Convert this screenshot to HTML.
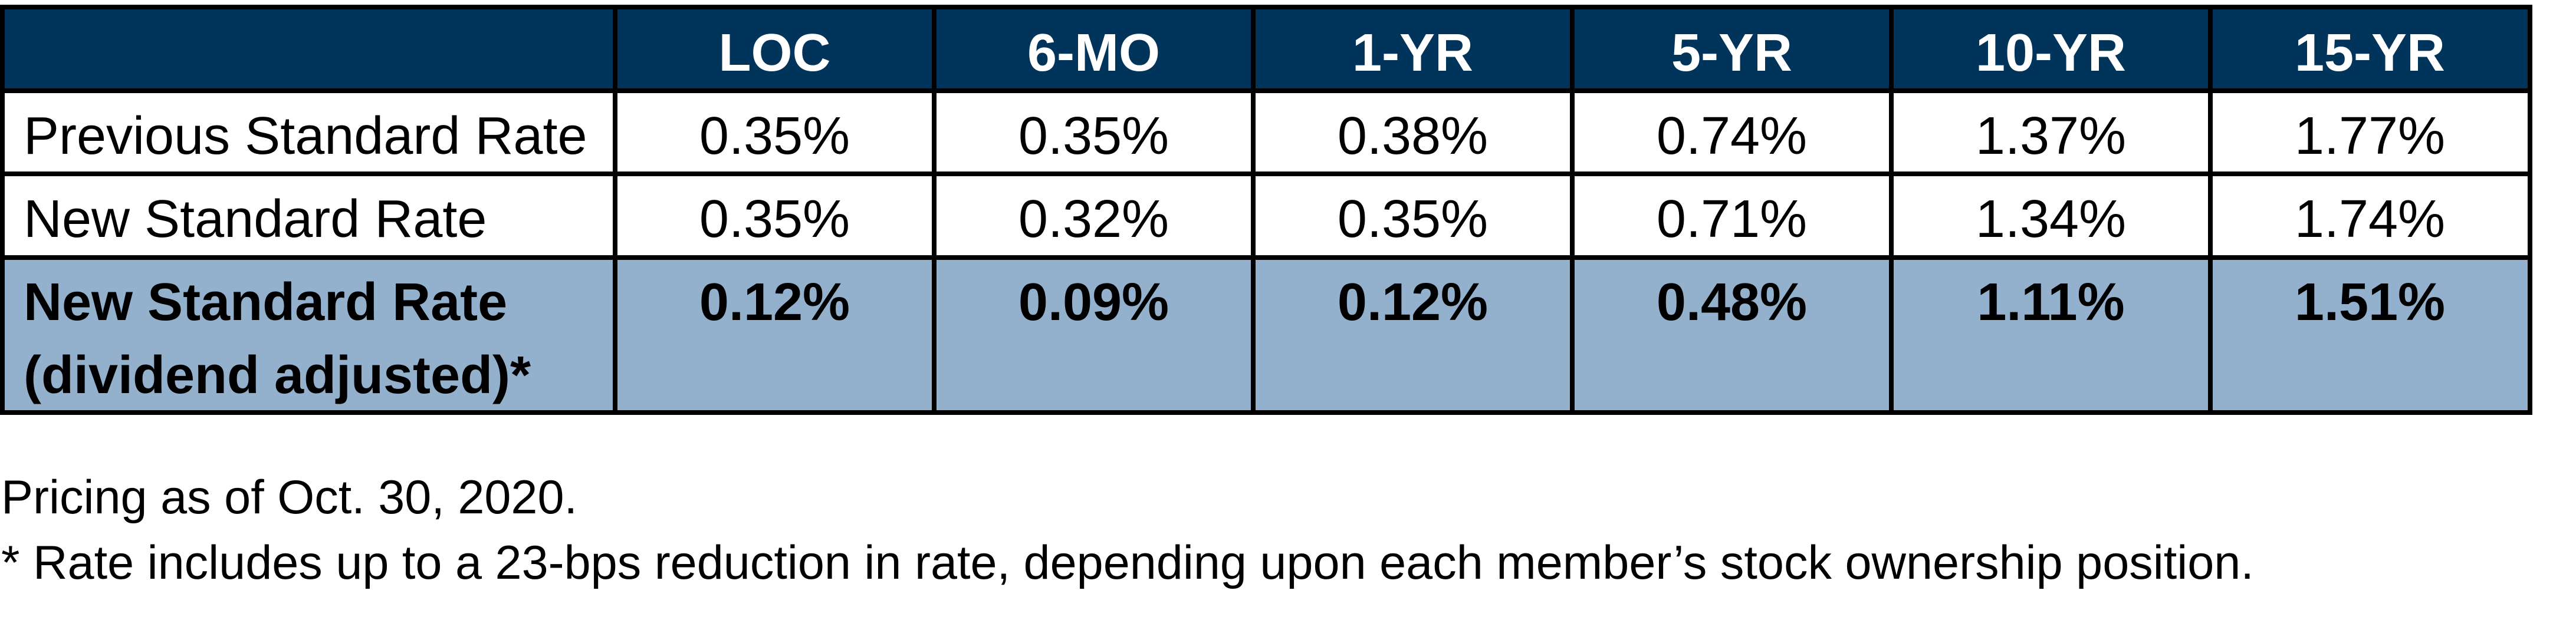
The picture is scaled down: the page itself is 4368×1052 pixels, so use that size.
<!DOCTYPE html>
<html><head><meta charset="utf-8"><style>
html,body{margin:0;padding:0;background:#fff;}
body{width:4368px;height:1052px;position:relative;overflow:hidden;font-family:"Liberation Sans",sans-serif;color:#000;}
.bg{position:absolute;}
.ln{position:absolute;background:#000;}
.t{position:absolute;font-size:90px;line-height:124px;white-space:nowrap;}
.c{text-align:center;}
.b{font-weight:bold;}
.h{color:#fff;font-weight:bold;}
.f{position:absolute;left:2px;font-size:81px;line-height:110px;white-space:nowrap;}
</style></head><body>
<div>
<div class="bg" style="left:4px;top:12px;width:4286px;height:142px;background:#00345A"></div>
<div class="bg" style="left:4px;top:437px;width:4286px;height:263px;background:#93B0CC"></div>

<div class="ln" style="left:0;top:8px;width:4294px;height:8px"></div>
<div class="ln" style="left:0;top:150px;width:4294px;height:8px"></div>
<div class="ln" style="left:0;top:291px;width:4294px;height:8px"></div>
<div class="ln" style="left:0;top:433px;width:4294px;height:8px"></div>
<div class="ln" style="left:0;top:696px;width:4294px;height:8px"></div>
<div class="ln" style="left:0;top:8px;width:8px;height:696px"></div>
<div class="ln" style="left:1039px;top:8px;width:8px;height:696px"></div>
<div class="ln" style="left:1580px;top:8px;width:8px;height:696px"></div>
<div class="ln" style="left:2121px;top:8px;width:8px;height:696px"></div>
<div class="ln" style="left:2662px;top:8px;width:8px;height:696px"></div>
<div class="ln" style="left:3203px;top:8px;width:8px;height:696px"></div>
<div class="ln" style="left:3744px;top:8px;width:8px;height:696px"></div>
<div class="ln" style="left:4286px;top:8px;width:8px;height:696px"></div>

<!-- header -->
<div class="t c h" style="left:1043px;width:541px;top:28px">LOC</div>
<div class="t c h" style="left:1584px;width:541px;top:28px">6-MO</div>
<div class="t c h" style="left:2125px;width:541px;top:28px">1-YR</div>
<div class="t c h" style="left:2666px;width:541px;top:28px">5-YR</div>
<div class="t c h" style="left:3207px;width:541px;top:28px">10-YR</div>
<div class="t c h" style="left:3748px;width:541px;top:28px">15-YR</div>

<!-- row 1 -->
<div class="t" style="left:40px;top:169px">Previous Standard Rate</div>
<div class="t c" style="left:1043px;width:541px;top:169px">0.35%</div>
<div class="t c" style="left:1584px;width:541px;top:169px">0.35%</div>
<div class="t c" style="left:2125px;width:541px;top:169px">0.38%</div>
<div class="t c" style="left:2666px;width:541px;top:169px">0.74%</div>
<div class="t c" style="left:3207px;width:541px;top:169px">1.37%</div>
<div class="t c" style="left:3748px;width:541px;top:169px">1.77%</div>

<!-- row 2 -->
<div class="t" style="left:40px;top:310px">New Standard Rate</div>
<div class="t c" style="left:1043px;width:541px;top:310px">0.35%</div>
<div class="t c" style="left:1584px;width:541px;top:310px">0.32%</div>
<div class="t c" style="left:2125px;width:541px;top:310px">0.35%</div>
<div class="t c" style="left:2666px;width:541px;top:310px">0.71%</div>
<div class="t c" style="left:3207px;width:541px;top:310px">1.34%</div>
<div class="t c" style="left:3748px;width:541px;top:310px">1.74%</div>

<!-- row 3 -->
<div class="t b" style="left:40px;top:451px">New Standard Rate<br>(dividend adjusted)*</div>
<div class="t c b" style="left:1043px;width:541px;top:451px">0.12%</div>
<div class="t c b" style="left:1584px;width:541px;top:451px">0.09%</div>
<div class="t c b" style="left:2125px;width:541px;top:451px">0.12%</div>
<div class="t c b" style="left:2666px;width:541px;top:451px">0.48%</div>
<div class="t c b" style="left:3207px;width:541px;top:451px">1.11%</div>
<div class="t c b" style="left:3748px;width:541px;top:451px">1.51%</div>
</div>

<div class="f" style="top:789px">Pricing as of Oct. 30, 2020.</div>
<div class="f" style="top:900px">* Rate includes up to a 23-bps reduction in rate, depending upon each member’s stock ownership position.</div>
</body></html>
